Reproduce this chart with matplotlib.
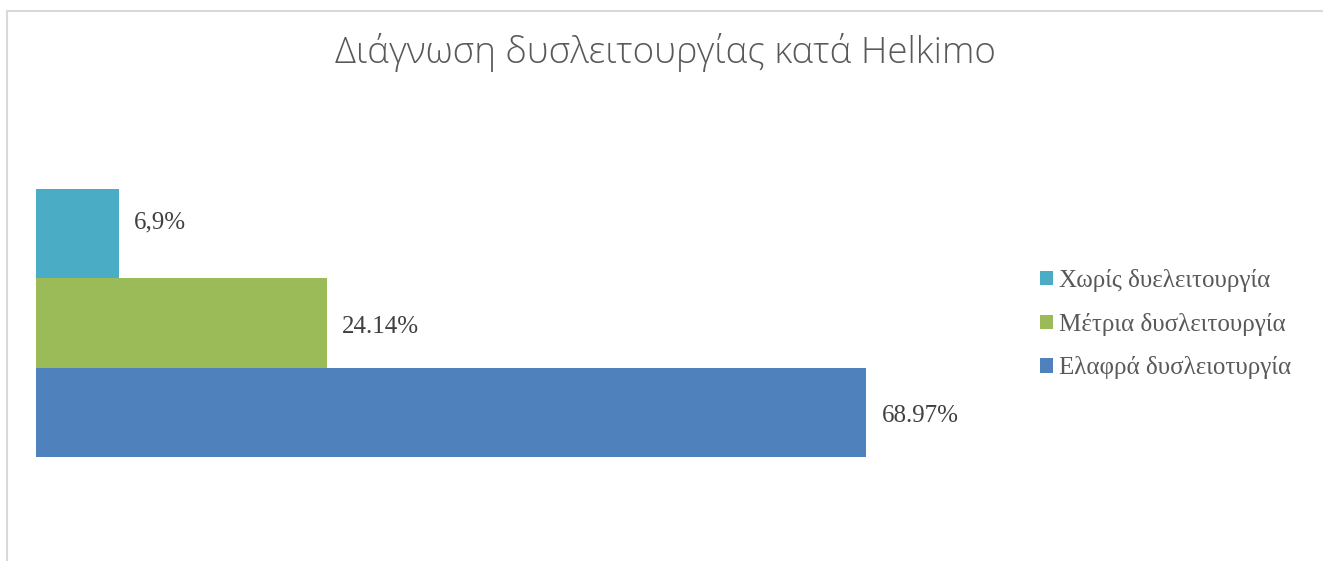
import matplotlib.pyplot as plt
from matplotlib.patches import Rectangle

# Κατηγορίες και ποσοστά (από κάτω προς τα πάνω)
κατηγορίες = ["Ελαφρά δυσλειοτυργία", "Μέτρια δυσλειτουργία", "Χωρίς δυελειτουργία"]
ποσοστά = [68.97, 24.14, 6.9]
ετικέτες = ["68.97%", "24.14%", "6,9%"]
χρώματα = ["#4F81BD", "#9BBB59", "#4BACC6"]

W, H = 1323, 561
fig = plt.figure(figsize=(W / 100, H / 100), dpi=100)

# Λεπτό γκρι πλαίσιο γύρω από το γράφημα
fig.patches.append(Rectangle((7 / W, -0.1), 1.2, (H - 10.5) / H + 0.1,
                             transform=fig.transFigure, fill=False,
                             edgecolor="#d9d9d9", linewidth=1.5))

# Περιοχή σχεδίασης: 0% στο x=36px, ~12.03 px ανά μονάδα
ax = fig.add_axes([36 / W, (H - 457) / H, 963 / W, 268 / H])
ax.set_xlim(0, 80)
ax.set_ylim(-0.5, 2.5)
ax.axis("off")

μπάρες = []
for i, (κ, τ, χ) in enumerate(zip(κατηγορίες, ποσοστά, χρώματα)):
    b = ax.barh(i, τ, height=1.0, color=χ, label=κ)
    μπάρες.append(b)

# η ετικέτα της μικρής μπάρας είναι λίγο πιο ψηλά
μετατοπίσεις = [(11, -3), (11, -3), (11, 8)]
for i, (τ, ετ) in enumerate(zip(ποσοστά, ετικέτες)):
    ax.annotate(ετ, xy=(τ, i), xytext=μετατοπίσεις[i], textcoords="offset points",
                va="center", ha="left", fontsize=18, color="#404040",
                family="Liberation Serif", annotation_clip=False)

fig.text(665 / W, 1 - 53 / H, "Διάγνωση δυσλειτουργίας κατά Helkimo",
         ha="center", va="center", fontsize=26.5, color="#595959",
         family="Open Sans", fontweight="light")

fig.legend(handles=[μπάρες[2], μπάρες[1], μπάρες[0]],
           labels=[κατηγορίες[2], κατηγορίες[1], κατηγορίες[0]],
           loc="center left", bbox_to_anchor=(1017.5 / W, 1 - 324 / H),
           frameon=False, handlelength=0.5, handleheight=0.5,
           handletextpad=0.25, labelspacing=0.83,
           prop={"family": "Liberation Serif", "size": 18},
           labelcolor="#595959")

fig.savefig("out.png", dpi=100)
